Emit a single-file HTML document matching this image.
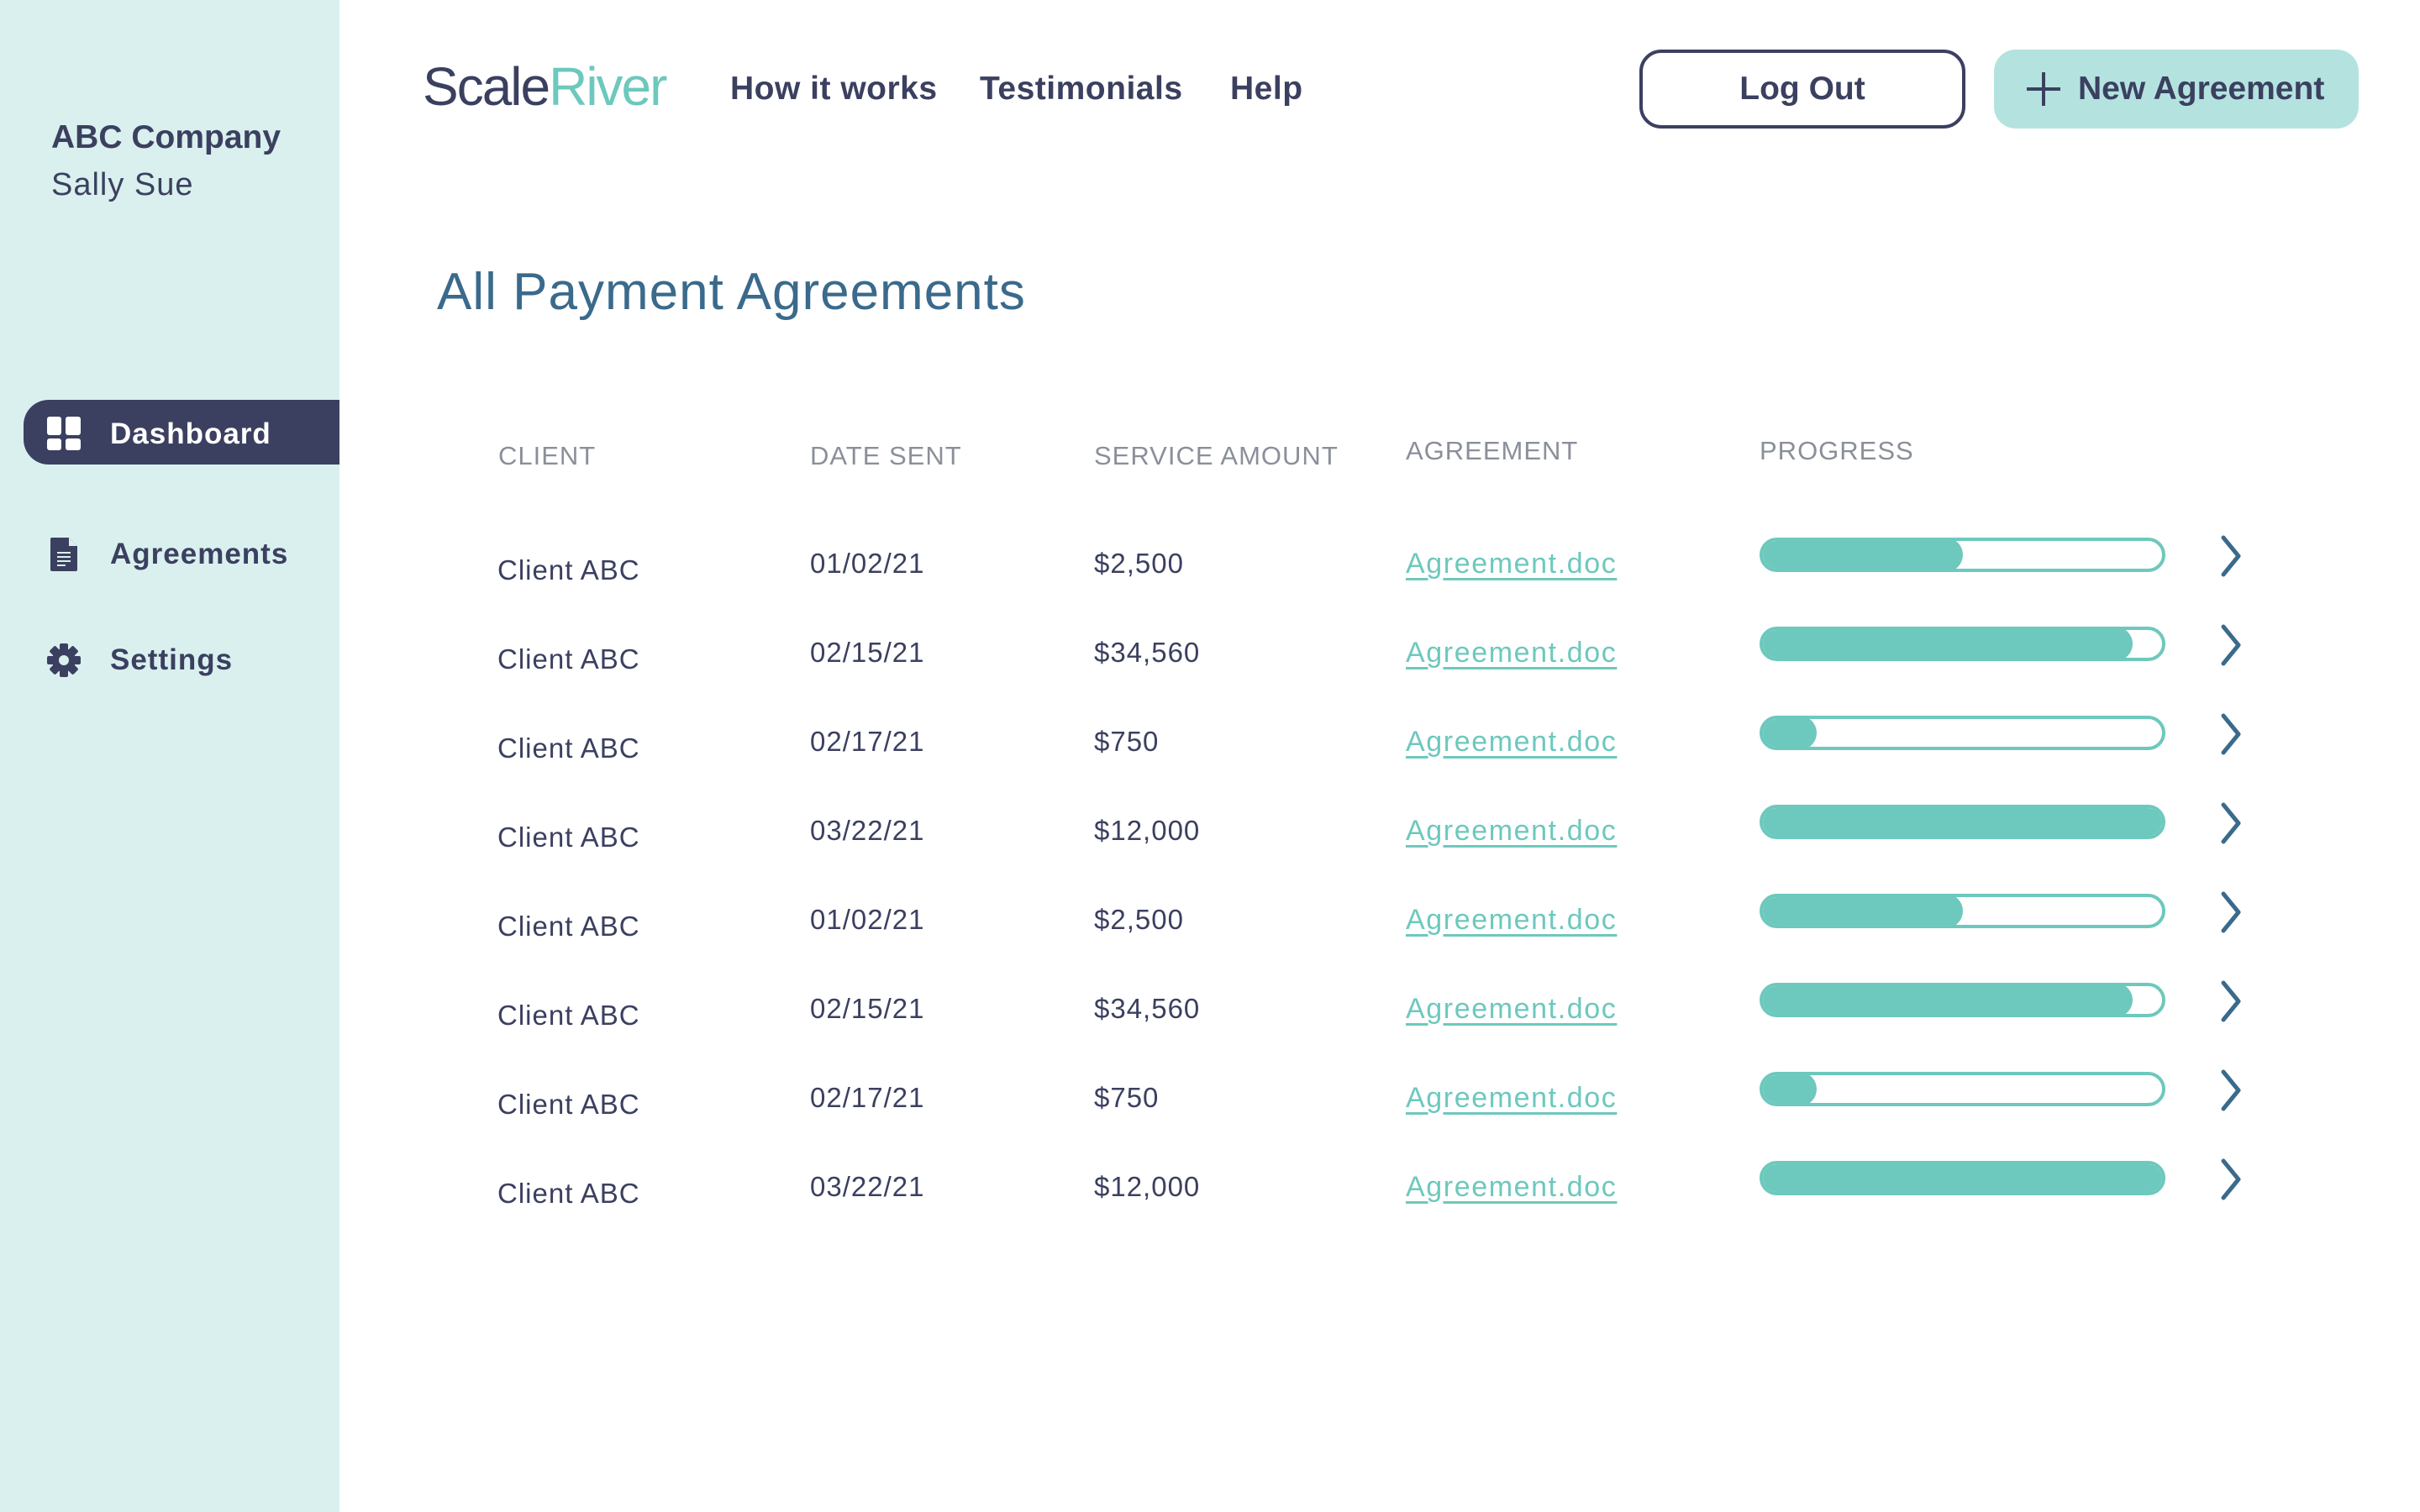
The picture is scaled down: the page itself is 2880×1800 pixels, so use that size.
<!DOCTYPE html>
<html><head><meta charset="utf-8"><style>
*{margin:0;padding:0;box-sizing:border-box}
body{width:2880px;height:1800px;background:#fff;font-family:"Liberation Sans",sans-serif;position:relative;overflow:hidden;color:#3b4060}
.a{position:absolute;white-space:nowrap}
#side{position:absolute;left:0;top:0;width:404px;height:1800px;background:#daf0ee}
.nav{font-size:39px;font-weight:bold;color:#3b4060;top:84px;letter-spacing:0.5px}
.h{font-size:31px;color:#8a8f99;letter-spacing:1px}
.c{font-size:33px;color:#3b4060;letter-spacing:1px}
.l{font-size:34px;color:#6dc8bd;text-decoration:underline;text-underline-offset:6px;letter-spacing:1.6px}
.bar{position:absolute;left:2094px;width:483px;height:41px;border:4px solid #6dc8bd;border-radius:21px;overflow:hidden;background:#fff}
.bar i{position:absolute;left:-4px;top:-4px;height:41px;background:#6dc8bd;border-radius:21px}
.chev{position:absolute;width:52px;height:52px}
</style></head><body>
<div id="side"></div>
<div class="a" style="left:61px;top:142px;font-size:39px;font-weight:bold">ABC Company</div>
<div class="a" style="left:61px;top:199px;font-size:38px;color:#3b4060;letter-spacing:1px">Sally Sue</div>
<div class="a" style="left:28px;top:476px;width:376px;height:77px;background:#3b4060;border-radius:30px 0 0 30px"></div>
<svg class="a" style="left:56px;top:496px" width="40" height="40"><rect x="0" y="0" width="17" height="22" rx="3" fill="#fff"/><rect x="0" y="26" width="17" height="14" rx="3" fill="#fff"/><rect x="22" y="0" width="18" height="22" rx="3" fill="#fff"/><rect x="22" y="26" width="18" height="14" rx="3" fill="#fff"/></svg>
<div class="a" style="left:131px;top:497px;font-size:35px;font-weight:bold;color:#fff;letter-spacing:1px">Dashboard</div>
<svg class="a" style="left:60px;top:640px" width="32" height="40"><path d="M2 0h20l10 10v28a2 2 0 0 1-2 2H2a2 2 0 0 1-2-2V2a2 2 0 0 1 2-2z" fill="#3b4060"/><path d="M22 0v10h10" fill="#daf0ee"/><g stroke="#daf0ee" stroke-width="2"><line x1="8" y1="18" x2="24" y2="18"/><line x1="8" y1="23" x2="24" y2="23"/><line x1="8" y1="28" x2="24" y2="28"/><line x1="8" y1="33" x2="18" y2="33"/></g></svg>
<div class="a" style="left:131px;top:640px;font-size:35px;font-weight:bold;letter-spacing:1px">Agreements</div>
<svg class="a" style="left:56px;top:766px" width="40" height="40" viewBox="-20 -20 40 40"><g fill="#3b4060"><circle r="14"/><g id="t"><rect x="-5" y="-20" width="10" height="10" rx="2"/></g><use href="#t" transform="rotate(45)"/><use href="#t" transform="rotate(90)"/><use href="#t" transform="rotate(135)"/><use href="#t" transform="rotate(180)"/><use href="#t" transform="rotate(225)"/><use href="#t" transform="rotate(270)"/><use href="#t" transform="rotate(315)"/></g><circle r="6" fill="#daf0ee"/></svg>
<div class="a" style="left:131px;top:766px;font-size:35px;font-weight:bold;letter-spacing:1px">Settings</div>

<div class="a" style="left:503px;top:66px;font-size:64px;color:#3b4060;letter-spacing:-2px">Scale<span style="color:#6dc8bd">River</span></div>
<div class="a nav" style="left:869px">How it works</div>
<div class="a nav" style="left:1166px">Testimonials</div>
<div class="a nav" style="left:1464px">Help</div>
<div class="a" style="left:1951px;top:59px;width:388px;height:94px;border:4px solid #3b4060;border-radius:26px;font-size:39px;font-weight:bold;text-align:center;line-height:86px">Log Out</div>
<div class="a" style="left:2373px;top:59px;width:434px;height:94px;background:#b4e3df;border-radius:26px;font-size:39px;font-weight:bold;line-height:94px;padding-left:100px">New Agreement</div>
<svg class="a" style="left:2410px;top:84px" width="44" height="44"><path d="M22 2v40M2 22h40" stroke="#3b4060" stroke-width="4"/></svg>

<div class="a" style="left:520px;top:312px;font-size:62px;color:#3a6a8c;letter-spacing:1px">All Payment Agreements</div>
<div class="a h" style="left:593px;top:525px">CLIENT</div>
<div class="a h" style="left:964px;top:525px">DATE SENT</div>
<div class="a h" style="left:1302px;top:525px">SERVICE AMOUNT</div>
<div class="a h" style="left:1673px;top:519px">AGREEMENT</div>
<div class="a h" style="left:2094px;top:519px">PROGRESS</div>

<div id="rows"></div>
<script>
var d=["01/02/21","02/15/21","02/17/21","03/22/21"],m=["$2,500","$34,560","$750","$12,000"],p=[0.5,0.92,0.14,1.0];
var h="";
for(var i=0;i<8;i++){var k=i%4,y=Math.round(652+i*106);
h+='<div class="a c" style="left:592px;top:'+(y+8)+'px">Client ABC</div>';
h+='<div class="a c" style="left:964px;top:'+y+'px">'+d[k]+'</div>';
h+='<div class="a c" style="left:1302px;top:'+y+'px">'+m[k]+'</div>';
h+='<div class="a l" style="left:1673px;top:'+y+'px">Agreement.doc</div>';
h+='<div class="bar" style="top:'+(y-12)+'px"><i style="width:'+Math.round(483*p[k])+'px"></i></div>';
h+='<svg class="chev" style="left:2630px;top:'+(y-16)+'px" viewBox="0 0 52 52"><path d="M16 4l18 22-18 22" fill="none" stroke="#3a6a8c" stroke-width="5" stroke-linecap="round" stroke-linejoin="round"/></svg>';}
document.getElementById("rows").innerHTML=h;
</script>
</body></html>
